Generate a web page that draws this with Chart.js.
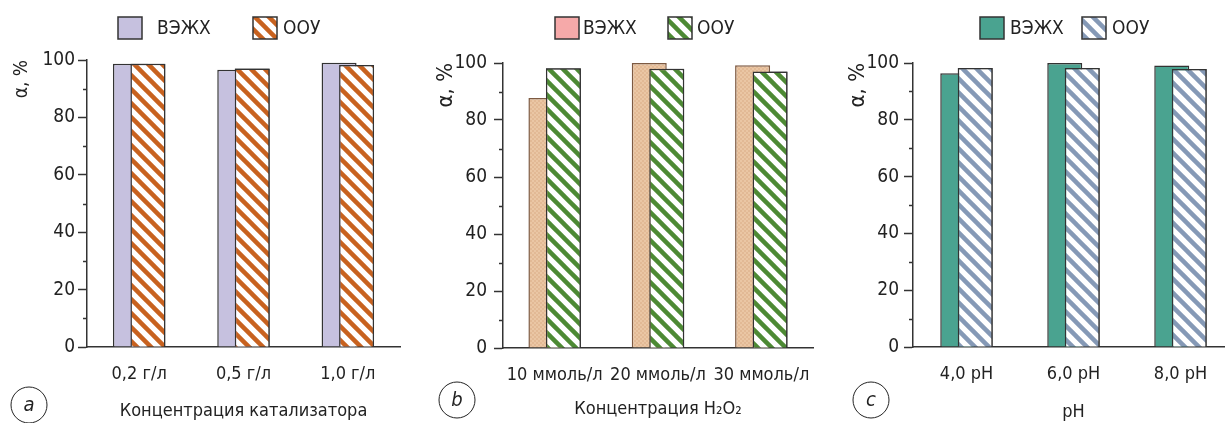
<!DOCTYPE html>
<html>
<head>
<meta charset="utf-8">
<script src="https://cdn.jsdelivr.net/npm/chart.js@4.4.1/dist/chart.umd.min.js"></script>
<style>
  html, body { margin: 0; padding: 0; background: #fff; width: 1225px; height: 423px; overflow: hidden; }
  .panel { position: absolute; top: 0; height: 423px; }
  #pa { left: 0; width: 410px; }
  #pb { left: 410px; width: 410px; }
  #pc { left: 810px; width: 430px; }
</style>
</head>
<body>
<div class="panel" id="pa"><canvas id="chartA" width="410" height="423"></canvas></div>
<div class="panel" id="pb"><canvas id="chartB" width="410" height="423"></canvas></div>
<div class="panel" id="pc"><canvas id="chartC" width="430" height="423"></canvas></div>
<script>
// --- данные ---
var seriesNames = ['ВЭЖХ', 'ООУ'];
var yTicks = [0, 20, 40, 60, 80, 100];
var yMinorTicks = [10, 30, 50, 70, 90];

var catA = ['0,2 г/л', '0,5 г/л', '1,0 г/л'];
var hplcA = [98.7, 96.6, 99.0];
var oouA = [98.7, 97.0, 98.3];

var catB = ['10 ммоль/л', '20 ммоль/л', '30 ммоль/л'];
var hplcB = [87.7, 100, 99.2];
var oouB = [98.2, 98.0, 97.0];

var catC = ['4,0 pH', '6,0 pH', '8,0 pH'];
var hplcC = [96.4, 100, 99.1];
var oouC = [98.2, 98.2, 97.9];

var FONT = '"Liberation Sans Narrow", "DejaVu Sans Condensed", Roboto, sans-serif';
Chart.defaults.font.family = FONT;
Chart.defaults.color = '#222';

// узоры для заливки
function stripes(color) {
  var s = 14, c = document.createElement('canvas');
  c.width = s; c.height = s;
  var g = c.getContext('2d');
  g.fillStyle = '#fff'; g.fillRect(0, 0, s, s);
  g.strokeStyle = color; g.lineWidth = 4.5;
  for (var k = -1; k <= 1; k++) {
    g.beginPath(); g.moveTo(k * s - 2, -2); g.lineTo(k * s + s + 2, s + 2); g.stroke();
  }
  return g.createPattern(c, 'repeat');
}
function checker(a, b) {
  var c = document.createElement('canvas');
  c.width = 4; c.height = 4;
  var g = c.getContext('2d');
  g.fillStyle = a; g.fillRect(0, 0, 4, 4);
  g.fillStyle = b; g.fillRect(0, 0, 2, 2); g.fillRect(2, 2, 2, 2);
  return g.createPattern(c, 'repeat');
}

// ООУ поверх ВЭЖХ, малые деления, легенда и буква панели
var decor = {
  id: 'decor',
  afterDatasetsDraw: function(chart) {
    chart.getDatasetMeta(1).controller.draw();
  },
  afterDraw: function(chart) {
    var o = chart.options.plugins.decor, ctx = chart.ctx, y = chart.scales.y;
    ctx.save();
    ctx.strokeStyle = '#333'; ctx.lineWidth = 1.5;
    yMinorTicks.forEach(function(v) {
      var py = Math.round(y.getPixelForValue(v)) + 0.5;
      ctx.beginPath(); ctx.moveTo(y.right - 4, py); ctx.lineTo(y.right, py); ctx.stroke();
    });
    // легенда
    ctx.font = '19px ' + FONT;
    ctx.textBaseline = 'middle';
    o.legend.forEach(function(it, i) {
      ctx.fillStyle = it.fill;
      ctx.fillRect(it.box, 17, 24, 22);
      ctx.lineWidth = 1.5; ctx.strokeStyle = '#333';
      ctx.strokeRect(it.box, 17, 24, 22);
      ctx.fillStyle = '#222';
      ctx.fillText(seriesNames[i], it.text, 29);
    });
    // буква
    ctx.beginPath();
    ctx.lineWidth = 1;
    ctx.strokeStyle = '#222';
    ctx.arc(o.letterX, o.letterY, 18, 0, Math.PI * 2);
    ctx.stroke();
    ctx.font = 'italic 20px ' + FONT;
    ctx.textAlign = 'center';
    ctx.fillStyle = '#222';
    ctx.fillText(o.letter, o.letterX, o.letterY + 1);
    ctx.restore();
  }
};

function makePanel(id, cats, hplc, oou, p) {
  var catPct = 35 / ((p.right - p.axisX) / 3);
  return new Chart(document.getElementById(id), {
    type: 'bar',
    data: {
      labels: cats,
      datasets: [
        { label: seriesNames[0], data: hplc, backgroundColor: p.fillA, borderColor: p.borderA,
          borderWidth: 1.5, categoryPercentage: catPct, barPercentage: 2 },
        { label: seriesNames[1], data: oou, backgroundColor: p.fillB, borderColor: '#333',
          borderWidth: 1.5, categoryPercentage: catPct, barPercentage: 2 }
      ]
    },
    options: {
      responsive: false,
      animation: false,
      layout: { padding: { left: 0, top: p.top, right: p.canvasW - p.right, bottom: 0 } },
      plugins: {
        legend: { display: false },
        tooltip: { enabled: false },
        decor: { legend: p.legend, letter: p.letter, letterX: p.letterX, letterY: p.letterY }
      },
      scales: {
        x: {
          grid: { display: false, drawTicks: false },
          border: { color: '#333', width: 1.5 },
          ticks: { font: { size: 18 }, padding: 17, color: '#222', maxRotation: 0, minRotation: 0, autoSkip: false },
          title: { display: true, text: p.xTitle, font: { size: 18 }, color: '#222', padding: { top: 0, bottom: p.xTitlePad } },
          afterFit: function(s) { s.height = 423 - p.bottom; s.paddingLeft = 0; s.paddingRight = 0; }
        },
        y: {
          min: 0, max: 100,
          afterBuildTicks: function(s) { s.ticks = yTicks.map(function(v) { return { value: v }; }); },
          grid: { drawOnChartArea: false, tickLength: 9, tickWidth: 1.5, tickColor: '#333' },
          border: { color: '#333', width: 1.5 },
          ticks: { font: { size: 19 }, padding: p.tickPad, color: '#222' },
          title: { display: true, text: 'α, %', align: 'end', font: { size: p.yTitleSize }, color: '#222',
                   padding: { top: p.yTitlePad, bottom: 0 } },
          afterFit: function(s) { s.width = p.axisX; s.paddingTop = 0; s.paddingBottom = 0; }
        }
      }
    },
    plugins: [decor]
  });
}

makePanel('chartA', catA, hplcA, oouA, {
  canvasW: 410, axisX: 87, right: 400, top: 60, bottom: 347,
  fillA: '#c6c1df', borderA: '#333', fillB: stripes('#c8621f'),
  tickPad: 3, xTitle: 'Концентрация катализатора', xTitlePad: 1,
  yTitleSize: 19, yTitlePad: 11,
  legend: [{ box: 118, text: 157, fill: '#c6c1df' }, { box: 253, text: 283, fill: stripes('#c8621f') }],
  letter: 'a', letterX: 29, letterY: 405
});

makePanel('chartB', catB, hplcB, oouB, {
  canvasW: 410, axisX: 93, right: 403, top: 63, bottom: 348,
  fillA: checker('#eac6a4', '#e2b995'), borderA: '#7d5a42', fillB: stripes('#4d8a34'),
  tickPad: 7, xTitle: 'Концентрация H₂O₂', xTitlePad: 3,
  yTitleSize: 22, yTitlePad: 23,
  legend: [{ box: 145, text: 173, fill: '#f6a9a9' }, { box: 258, text: 287, fill: stripes('#4d8a34') }],
  letter: 'b', letterX: 47, letterY: 400
});

makePanel('chartC', catC, hplcC, oouC, {
  canvasW: 430, axisX: 103, right: 424, top: 63, bottom: 347,
  fillA: '#4aa390', borderA: '#333', fillB: stripes('#8599b6'),
  tickPad: 5, xTitle: 'pH', xTitlePad: 0,
  yTitleSize: 22, yTitlePad: 35,
  legend: [{ box: 170, text: 200, fill: '#4aa390' }, { box: 272, text: 302, fill: stripes('#8599b6') }],
  letter: 'c', letterX: 61, letterY: 400
});
</script>
</body>
</html>
